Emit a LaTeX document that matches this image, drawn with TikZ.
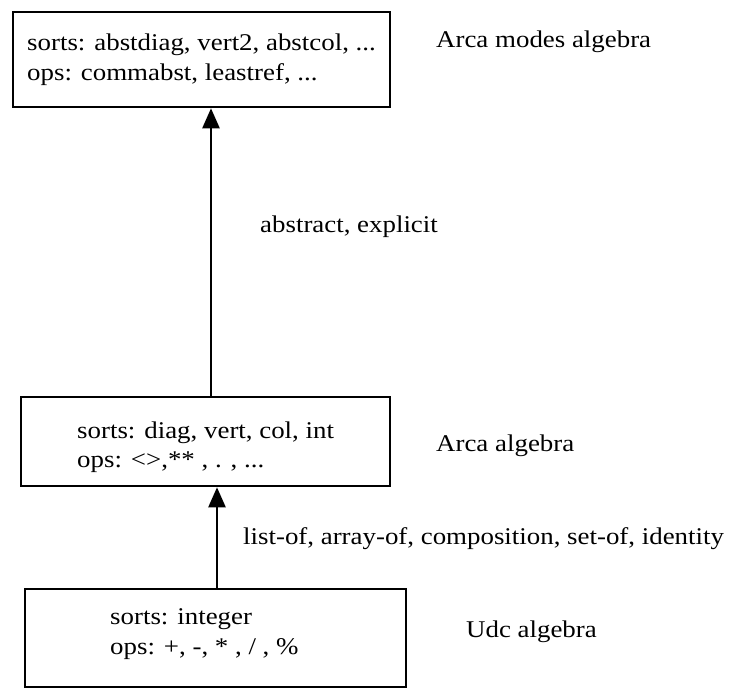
\documentclass[tikz,border=0pt]{standalone}
\usepackage{fontspec}
\setmainfont{Liberation Serif}
\usetikzlibrary{arrows.meta}
\newcommand{\wide}[1]{\scalebox{1.12}[1]{#1}}
\begin{document}
\begin{tikzpicture}[x=1pt,y=-1pt,
  box/.style={draw=black,line width=2.6pt,inner sep=0pt},
  txt/.style={anchor=base west,inner sep=0pt,font=\fontsize{24}{29}\selectfont},
  arr/.style={line width=2.4pt,-{Triangle[length=20pt,width=17pt]}}]
\useasboundingbox (0,0) rectangle (744,688);
% boxes
\node[box,minimum width=377pt,minimum height=95pt] (b1) at (201.5,59.5) {};
\node[box,minimum width=369pt,minimum height=89pt] (b2) at (205.5,441.5) {};
\node[box,minimum width=381pt,minimum height=98pt] (b3) at (215.5,638) {};
% box texts
\node[txt] (t1a) at (27,50) {\wide{sorts: abstdiag, vert2, abstcol, ...}};
\node[txt] (t1b) at (27,80) {\wide{ops: commabst, leastref, ...}};
\node[txt] (t2a) at (77,438) {\wide{sorts: diag, vert, col, int}};
\node[txt] (t2b) at (77,467) {\wide{ops: <>,** , . , ...}};
\node[txt] (t3a) at (110,624) {\wide{sorts: integer}};
\node[txt] (t3b) at (110,654) {\wide{ops: +, -, * , / , \%}};
% labels
\node[txt] (l1) at (436,47) {\wide{Arca modes algebra}};
\node[txt] (l2) at (436,451) {\wide{Arca algebra}};
\node[txt] (l3) at (466,637) {\wide{Udc algebra}};
\node[txt] (e1) at (260,232) {\wide{abstract, explicit}};
\node[txt] (e2) at (243,544) {\wide{list-of, array-of, composition, set-of, identity}};
% arrows
\coordinate (ax1) at (211,0);
\coordinate (ax2) at (217,0);
\draw[arr] (ax1 |- b2.north) -- (ax1 |- b1.south);
\draw[arr] (ax2 |- b3.north) -- (ax2 |- b2.south);
\end{tikzpicture}
\end{document}
